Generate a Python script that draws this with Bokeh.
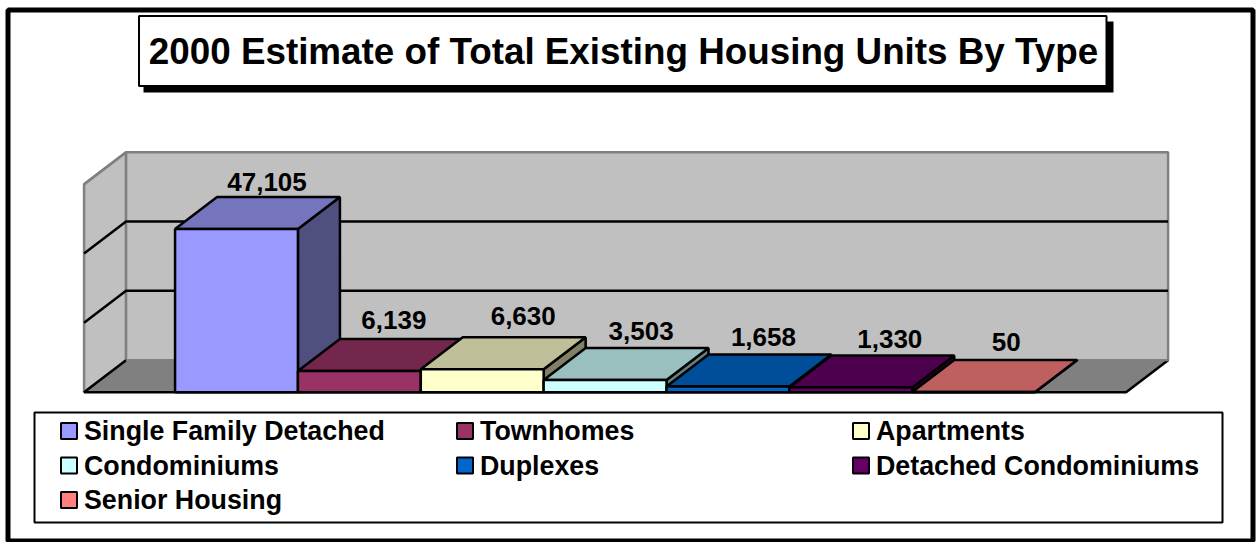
from bokeh.plotting import figure
from bokeh.models import Range1d
from bokeh.core.properties import value
from bokeh.embed import file_html
from bokeh.resources import INLINE

title_text = "2000 Estimate of Total Existing Housing Units By Type"
categories = ["Single Family Detached", "Townhomes", "Apartments", "Condominiums",
              "Duplexes", "Detached Condominiums", "Senior Housing"]
units = [47105, 6139, 6630, 3503, 1658, 1330, 50]
front_colors = ["#9999FF", "#993366", "#FFFFCC", "#CCFFFF", "#0066CC", "#660066", "#FF8080"]
top_colors = ["#7575BD", "#73274C", "#BFBF99", "#99BFBF", "#004D99", "#4D004D", "#BF6060"]
side_colors = ["#4F4F80", "#4D1A33", "#808066", "#668080", "#003366", "#330033", "#804040"]
gridlines = [20000, 40000]
axis_max = 60000

# layout
W, H = 1257, 542
PX_X0, PX_BAR = 236.0, 122.86      # pixel of bar 0 centre, bar width
PX_BASE, PX_AXIS = 391.7, 208.0    # pixel of value 0, pixels for axis_max
DX = 42 / PX_BAR                   # depth, in bar widths
DY = 32 * axis_max / PX_AXIS       # depth, in value units
GAP = 91 / PX_BAR
label_dx = [30.5, 34.5, 41, 36, 35.5, 39, 32.5]
label_dy = [15, 19, 21, 17, 17, 17, 18]

x_rng = Range1d(-PX_X0 / PX_BAR, (W - PX_X0) / PX_BAR)
y_rng = Range1d((PX_BASE - H) * axis_max / PX_AXIS, PX_BASE * axis_max / PX_AXIS)

p = figure(width=W, height=H, x_range=x_rng, y_range=y_rng, min_border=0,
           toolbar_location=None, output_backend="svg", tools="",
           x_axis_location=None, y_axis_location=None, outline_line_color=None,
           background_fill_color="white", border_fill_color="white", margin=(0, 0, 0, 0))
p.grid.visible = False
p.extra_x_ranges = {"px": Range1d(0, W)}
p.extra_y_ranges = {"px": Range1d(H, 0)}
PX = dict(x_range_name="px", y_range_name="px")
FONT = value("Liberation Sans")

# outer frame
p.quad(left=7.5, right=1252.5, top=9.5, bottom=540.5, fill_color="white", line_color="black", line_width=5, **PX)

# 3D walls and floor
xl, xr = -0.5 - GAP, len(units) - 0.5 + GAP
p.patch([xl, xl + DX, xl + DX, xl], [axis_max, axis_max + DY, DY, 0],
        fill_color="#C0C0C0", line_color="#808080", line_width=2.5)
p.patch([xl + DX, xr + DX, xr + DX, xl + DX], [DY, DY, axis_max + DY, axis_max + DY],
        fill_color="#C0C0C0", line_color="#808080", line_width=2.5)
for g in gridlines:
    p.line([xl, xl + DX, xr + DX], [g, g + DY, g + DY], line_color="black", line_width=2.5)
p.patch([xl, xr, xr + DX, xl + DX], [0, 0, DY, DY], fill_color="#808080", line_color=None)
p.line([xl + DX, xl, xr, xr + DX], [DY, 0, 0, DY], line_color="black", line_width=2.5)
p.line([xr + DX, xl + DX], [DY, DY], line_color="#808080", line_width=2)
p.line([xl, xl + DX], [axis_max, axis_max + DY], line_color="#808080", line_width=2.5)

# bars
for i, v in enumerate(units):
    a, b = i - 0.5, i + 0.5
    lw = 2.5
    p.patch([b, b + DX, b + DX, b], [0, DY, v + DY, v], fill_color=side_colors[i], line_color="black", line_width=lw)
    p.patch([a, b, b + DX, a + DX], [v, v, v + DY, v + DY], fill_color=top_colors[i], line_color="black", line_width=lw)
    p.quad(left=a, right=b, bottom=0, top=v, fill_color=front_colors[i], line_color="black", line_width=lw)

# value labels
lx = [i + d / PX_BAR for i, d in enumerate(label_dx)]
ly = [v + DY + d * axis_max / PX_AXIS for v, d in zip(units, label_dy)]
p.text(lx, ly, text=[f"{v:,}" for v in units], text_font=FONT, text_font_style="bold",
       text_font_size="26px", text_color="black", text_align="center", text_baseline="alphabetic")

# legend box
p.quad(left=34, right=1222, top=412, bottom=522, fill_color="white", line_color="black", line_width=2, **PX)
col_x, row_y = [59.5, 455.5, 851.5], [430.5, 465, 499.5]
text_y = [431, 466, 500]
for i, name in enumerate(categories):
    sx, sy = col_x[i % 3], row_y[i // 3]
    p.quad(left=sx + 1, right=sx + 17, top=sy - 8, bottom=sy + 8, fill_color=front_colors[i],
           line_color="black", line_width=2, **PX)
    p.text([sx + 24], [text_y[i // 3] - 1], text=[name], text_font=FONT, text_font_style="bold",
           text_font_size="26.8px", text_color="black", text_align="left", text_baseline="alphabetic", **PX)

# title box with shadow
p.quad(left=143, right=1113, top=21, bottom=92, fill_color="black", line_color=None, **PX)
p.quad(left=138.5, right=1106, top=15.5, bottom=85.5, fill_color="white", line_color="black", line_width=2, **PX)
p.text([623], [51], text=[title_text], text_font=FONT, text_font_style="bold", text_font_size="36.8px",
       text_color="black", text_align="center", text_baseline="alphabetic", **PX)

open("out.html", "w").write(file_html(p, INLINE))
